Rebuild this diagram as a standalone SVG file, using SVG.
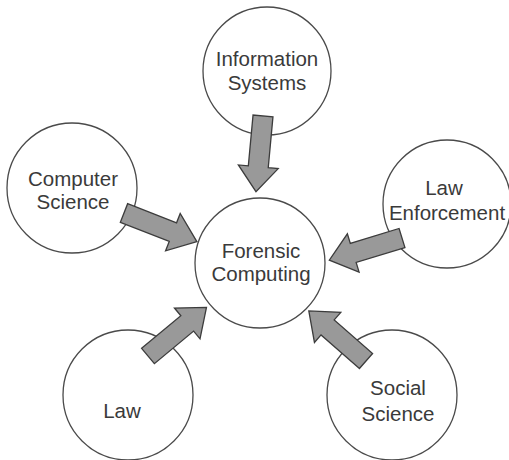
<svg xmlns="http://www.w3.org/2000/svg" width="509" height="460" viewBox="0 0 509 460">
<style>
.node circle{fill:#fff;stroke:#4a4a4a;stroke-width:1.3}
.node text{font-family:"Liberation Sans",Arial,sans-serif;font-size:20.5px;fill:#3a3a3a;text-anchor:middle}
.arr{fill:#999;stroke:#3c3c3c;stroke-width:1.3;stroke-linejoin:miter}
</style>
<defs>
<polygon id="blk" points="0,-10 51,-10 51,-20 76,0 51,20 51,10 0,10"/>
</defs>
<rect width="509" height="460" fill="#fff"/>
<g id="n-info" class="node"><circle cx="267" cy="71" r="64"/><text x="267" y="66">Information</text><text x="267" y="90">Systems</text></g>
<g id="n-cs" class="node"><circle cx="72" cy="188" r="65"/><text x="73" y="186">Computer</text><text x="73" y="209">Science</text></g>
<g id="n-le" class="node"><circle cx="447" cy="204" r="64"/><text x="444" y="195">Law</text><text x="447" y="220">Enforcement</text></g>
<g id="n-fc" class="node"><circle cx="260" cy="263" r="65"/><text x="261" y="258">Forensic</text><text x="261" y="281">Computing</text></g>
<g id="n-law" class="node"><circle cx="128" cy="395" r="65"/><text x="122" y="418">Law</text></g>
<g id="n-ss" class="node"><circle cx="392" cy="395" r="65"/><text x="398" y="395">Social</text><text x="398" y="421">Science</text></g>
<g id="connectors">
<use href="#blk" class="arr" transform="translate(263,116) rotate(95.3)"/>
<use href="#blk" class="arr" transform="translate(124,213) rotate(21.4) scale(1.03,1)"/>
<use href="#blk" class="arr" transform="translate(402,238) rotate(163)"/>
<use href="#blk" class="arr" transform="translate(148,356) rotate(-39.7)"/>
<use href="#blk" class="arr" transform="translate(366,361) rotate(-138.8)"/>
</g>
</svg>
